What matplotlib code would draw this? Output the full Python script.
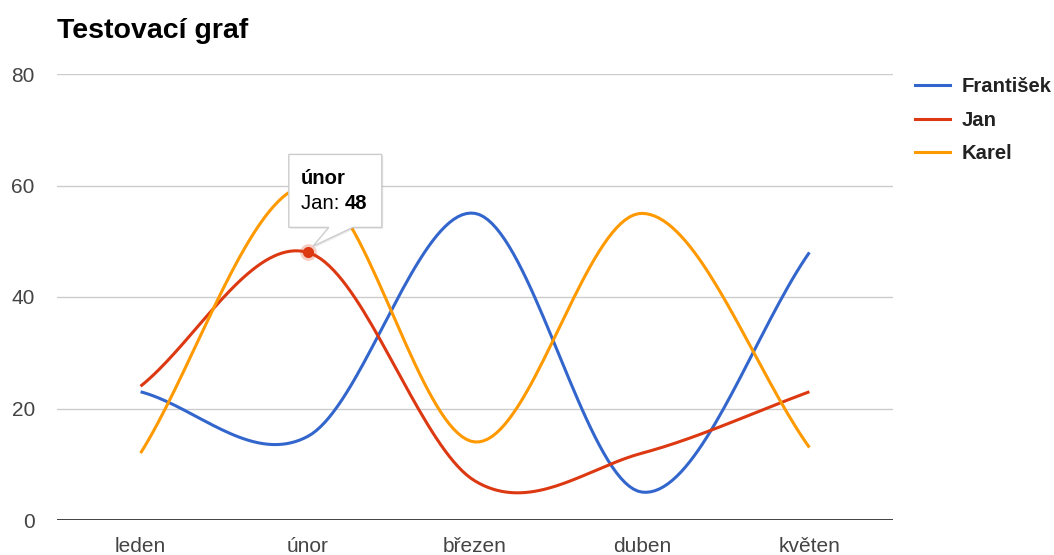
import numpy as np
import matplotlib
matplotlib.use("Agg")
import matplotlib.pyplot as plt
from matplotlib.patches import Polygon
from matplotlib.transforms import Affine2D

plt.rcParams['font.family'] = ['Liberation Sans', 'DejaVu Sans']

mesice = ['leden', 'únor', 'březen', 'duben', 'květen']
frantisek = [23, 15, 55, 5, 48]
jan = [24, 48, 7, 12, 23]
karel = [12, 60, 14, 55, 13]
jmena = ['František', 'Jan', 'Karel']
barvy = ['#3366cc', '#dc3912', '#ff9900']
y_ticks = [0, 20, 40, 60, 80]


def hladka(y, n=40):
    # kubicka hermitovska krivka pres body (jako curveType 'function')
    y = np.asarray(y, dtype=float)
    m = np.zeros_like(y)
    m[1:-1] = (y[2:] - y[:-2]) / 2
    m[0] = y[1] - y[0]
    m[-1] = y[-1] - y[-2]
    xs, ys = [], []
    for i in range(len(y) - 1):
        t = np.linspace(0, 1, n)
        h00 = 2*t**3 - 3*t**2 + 1
        h10 = t**3 - 2*t**2 + t
        h01 = -2*t**3 + 3*t**2
        h11 = t**3 - t**2
        xs.append(i + t)
        ys.append(h00*y[i] + h10*m[i] + h01*y[i+1] + h11*m[i+1])
    return np.concatenate(xs), np.concatenate(ys)


W, H = 1054, 555
fig = plt.figure(figsize=(W/100, H/100), dpi=100)
ax = fig.add_axes([57/W, 1 - 520/H, (893-57)/W, (520-74)/H])
ax.set_xlim(-0.5, 4.5)
ax.set_ylim(0, 80)

for v in y_ticks[1:]:
    ax.axhline(v, color='#cccccc', lw=1, zorder=1)
ax.axhline(0, color='#333333', lw=1.3, zorder=3)

for data, c in zip([frantisek, jan, karel], barvy):
    x, y = hladka(data)
    ax.plot(x, y, color=c, lw=2.2, zorder=4, solid_capstyle='butt')

for s in ax.spines.values():
    s.set_visible(False)
ax.set_xticks(range(len(mesice)))
ax.set_xticklabels(mesice)
ax.set_yticks(y_ticks)
ax.tick_params(length=0, labelsize=15, colors='#444444')
ax.tick_params(axis='y', pad=16)
ax.tick_params(axis='x', pad=12)

fig.text(57/W, 1 - 31/H, 'Testovací graf', fontsize=20.5, fontweight='bold',
         ha='left', va='center', color='#000000')

# legenda
for i, (jm, c) in enumerate(zip(jmena, barvy)):
    yy = 1 - (85 + 33.5*i)/H
    fig.add_artist(plt.Line2D([915/W, 950/W], [yy, yy], color=c, lw=2.2))
    fig.text(962/W, yy - 1.5/H, jm, fontsize=14.6, fontweight='bold', color='#222222',
             ha='left', va='center')

# vybrany bod a tooltip
bx, by = 1, jan[1]
ax.plot(bx, by, 'o', ms=12, color=barvy[1], alpha=0.25, zorder=5, mec='none')
ax.plot(bx, by, 'o', ms=8, color=barvy[1], zorder=6, mec='none')

px, py = ax.transData.transform((bx, by))
tr = Affine2D().translate(px, py)
obrys = [(-19, 98), (74, 98), (74, 25), (45, 25), (5, 6), (21, 25), (-19, 25)]
stin = Polygon([(x + 1.5, y - 1.5) for x, y in obrys], closed=True, transform=tr,
               facecolor='#000000', alpha=0.08, edgecolor='none', zorder=9)
fig.add_artist(stin)
bublina = Polygon(obrys, closed=True, transform=tr, facecolor='white',
                  edgecolor='#cccccc', lw=1, zorder=10)
fig.add_artist(bublina)
fig.text(px - 7, py + 74, mesice[1], transform=None, fontsize=14.6, fontweight='bold',
         ha='left', va='center', color='#000000', zorder=11)
t1 = fig.text(px - 7, py + 49, 'Jan: ', transform=None, fontsize=14.6,
              ha='left', va='center', color='#000000', zorder=11)
fig.canvas.draw()
bb = t1.get_window_extent()
fig.text(bb.x1, py + 49, str(by), transform=None, fontsize=14.6, fontweight='bold',
         ha='left', va='center', color='#000000', zorder=11)

fig.savefig('out.png', dpi=100)
